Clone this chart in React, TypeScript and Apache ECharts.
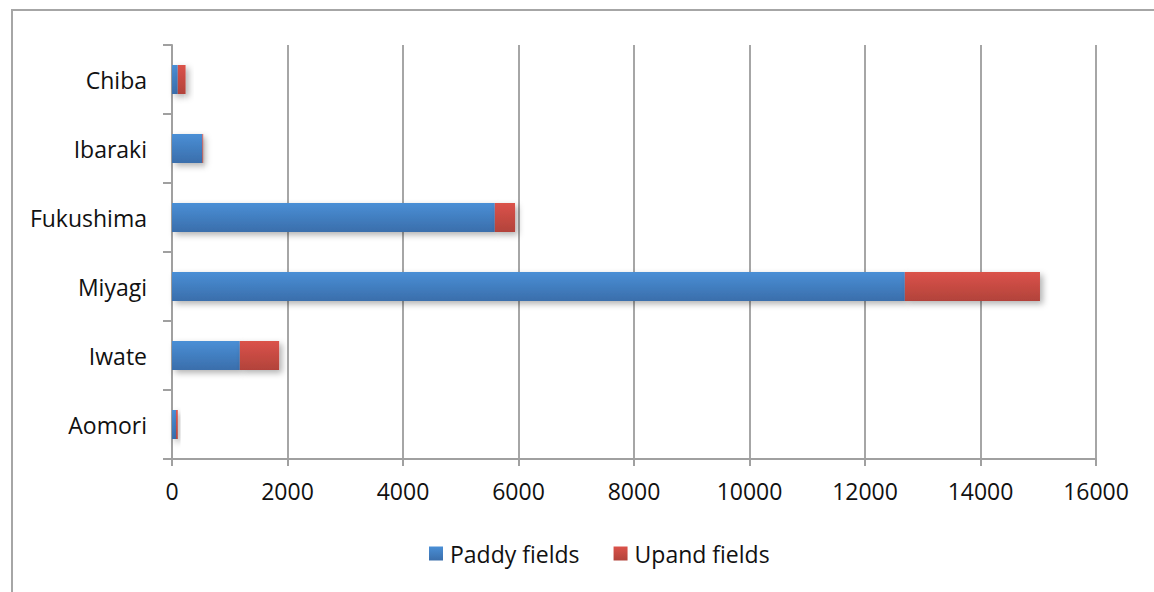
import React, { useEffect, useRef } from "react";
import * as echarts from "echarts";

const categories = ["Aomori", "Iwate", "Miyagi", "Fukushima", "Ibaraki", "Chiba"];
const paddyFields = [70, 1175, 12690, 5590, 525, 100];
const uplandFields = [30, 680, 2340, 350, 15, 135];
const xTicks = { min: 0, max: 16000, interval: 2000 };

const FONT = "'Open Sans', Lato, sans-serif";
const FS = 23;

export default function App() {
  const ref = useRef<HTMLDivElement>(null);
  useEffect(() => {
    if (!ref.current) return;
    const chart = echarts.init(ref.current, null, { renderer: "svg" });
    const grad = (top: string, bottom: string) =>
      new echarts.graphic.LinearGradient(0, 0, 0, 1, [
        { offset: 0, color: top },
        { offset: 1, color: bottom },
      ]);
    chart.setOption({
      animation: false,
      backgroundColor: "#ffffff",
      textStyle: { fontFamily: FONT },
      grid: { left: 172, right: 58, top: 45, bottom: 133, containLabel: false },
      graphic: [
        {
          type: "rect",
          shape: { x: 12, y: 10, width: 1200, height: 640 },
          style: { fill: "none", stroke: "#a6a6a6", lineWidth: 2 },
          silent: true,
        },
      ],
      legend: {
        top: 537,
        left: 424,
        itemWidth: 14,
        itemHeight: 14,
        itemGap: 34,
        icon: "rect",
        textStyle: { fontSize: FS, color: "#111", fontFamily: FONT, padding: [0, 0, 0, 2] },
        data: ["Paddy fields", "Upand fields"],
      },
      xAxis: {
        type: "value",
        min: xTicks.min,
        max: xTicks.max,
        interval: xTicks.interval,
        axisLine: { show: true, lineStyle: { color: "#a0a0a0", width: 2 } },
        axisTick: { show: true, length: 7, lineStyle: { color: "#a0a0a0", width: 2 } },
        splitLine: { show: true, lineStyle: { color: "#a6a6a6", width: 2 } },
        axisLabel: {
          fontSize: FS,
          color: "#111",
          margin: 20,
          fontFamily: FONT,
          formatter: (v: number) => String(v),
        },
      },
      yAxis: {
        type: "category",
        data: categories,
        axisLine: { show: true, lineStyle: { color: "#a0a0a0", width: 2 } },
        axisTick: { show: true, length: 9, lineStyle: { color: "#a0a0a0", width: 2 } },
        axisLabel: { fontSize: FS, color: "#111", margin: 25, fontFamily: FONT },
      },
      series: [
        {
          name: "Paddy fields",
          type: "bar",
          stack: "total",
          barWidth: "42%",
          data: paddyFields,
          itemStyle: {
            color: grad("#4a8fd6", "#3a6eab"),
            shadowColor: "rgba(0,0,0,0.3)",
            shadowBlur: 6,
            shadowOffsetX: 3,
            shadowOffsetY: 3,
          },
        },
        {
          name: "Upand fields",
          type: "bar",
          stack: "total",
          barWidth: "42%",
          data: uplandFields,
          itemStyle: {
            color: grad("#db524a", "#b2433b"),
            shadowColor: "rgba(0,0,0,0.3)",
            shadowBlur: 6,
            shadowOffsetX: 3,
            shadowOffsetY: 3,
          },
        },
      ],
    });
    return () => chart.dispose();
  }, []);
  return (
    <div
      ref={ref}
      style={{ position: "fixed", left: 0, top: 0, width: 1154, height: 592 }}
    />
  );
}
